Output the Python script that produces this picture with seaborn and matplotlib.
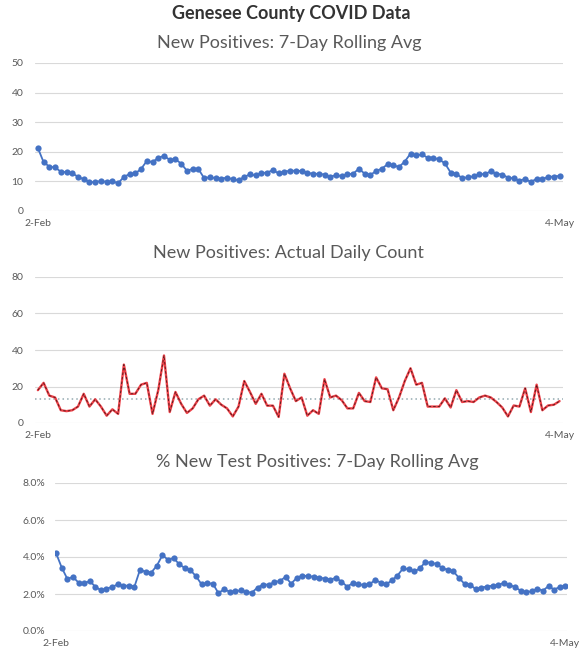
import matplotlib
matplotlib.use('Agg')
import matplotlib.pyplot as plt
import seaborn as sns
import pandas as pd
import numpy as np

# Feb 2 - May 4, one value per day
dates = pd.date_range('2021-02-02', '2021-05-04', freq='D')

rolling_avg = [21.3, 16.5, 15.0, 14.7, 13.3, 13.1, 12.7, 11.6, 10.7, 9.8,
               9.7, 10.2, 9.8, 10.0, 9.4, 11.5, 12.5, 12.7, 14.2, 16.9,
               16.5, 18.0, 18.6, 17.3, 17.5, 16.0, 13.6, 14.2, 14.2, 11.1,
               11.4, 11.1, 10.9, 11.3, 10.7, 10.4, 11.5, 12.4, 12.0, 12.8,
               13.0, 13.8, 12.7, 13.3, 13.6, 13.6, 13.5, 13.0, 12.5, 12.6,
               12.3, 11.6, 12.1, 11.8, 12.4, 12.6, 14.3, 12.6, 12.2, 13.5,
               14.3, 15.8, 15.4, 14.9, 16.7, 19.4, 18.8, 19.1, 18.0, 18.0,
               17.4, 16.1, 13.0, 12.6, 11.1, 11.4, 11.7, 12.4, 12.5, 13.4,
               12.6, 12.3, 11.3, 11.0, 10.3, 10.8, 9.8, 10.9, 10.7, 11.6,
               11.6, 11.9]

daily_count = [18, 22, 15, 14, 7, 6.5, 7, 9, 16, 9,
               13, 9, 4, 7.5, 5, 32, 16, 16, 21, 22,
               5, 18, 37, 6, 17, 10.5, 5.5, 8, 13, 15,
               9.5, 13, 10, 8, 3.6, 9, 23, 17, 10.5, 16,
               9.5, 9.5, 3.3, 27, 19, 12, 14, 4, 7, 5,
               24, 14, 15, 12.5, 8, 8, 16.5, 12, 11.5, 25,
               19, 18.5, 7, 14, 23, 30, 21, 22, 9, 9,
               9, 13.5, 8.5, 18, 11.5, 12, 11.5, 14, 15, 14,
               11.5, 8.5, 3.6, 9.6, 9, 19, 6, 21, 7, 9.6,
               10, 12]
daily_avg_line = 13.4

pct_positive = [4.2, 3.43, 2.82, 2.92, 2.62, 2.58, 2.7, 2.4, 2.2, 2.29,
                2.38, 2.52, 2.45, 2.45, 2.4, 3.32, 3.2, 3.16, 3.53, 4.1,
                3.85, 3.94, 3.61, 3.4, 3.29, 2.96, 2.52, 2.58, 2.56, 2.05,
                2.25, 2.13, 2.14, 2.2, 2.1, 2.08, 2.35, 2.51, 2.51, 2.64,
                2.71, 2.92, 2.56, 2.87, 3.0, 2.96, 2.94, 2.89, 2.83, 2.78,
                2.87, 2.67, 2.4, 2.58, 2.52, 2.49, 2.52, 2.76, 2.62, 2.52,
                2.74, 3.0, 3.38, 3.34, 3.22, 3.38, 3.74, 3.68, 3.63, 3.4,
                3.31, 3.22, 2.87, 2.54, 2.51, 2.25, 2.35, 2.4, 2.45, 2.49,
                2.6, 2.49, 2.38, 2.18, 2.11, 2.14, 2.29, 2.18, 2.43, 2.24,
                2.38, 2.45]

main_title = 'Genesee County COVID Data'
titles = ['New Positives: 7-Day Rolling Avg',
          'New Positives: Actual Daily Count',
          '% New Test Positives: 7-Day Rolling Avg']

sns.set_theme(style='white')
plt.rcParams['font.family'] = ['Lato', 'DejaVu Sans']

W, H = 581, 650
fig = plt.figure(figsize=(W / 100, H / 100), dpi=100)

def px_axes(left, top, right, bottom):
    return fig.add_axes([left / W, 1 - bottom / H, (right - left) / W, (bottom - top) / H])

ax1 = px_axes(35, 63, 563, 211)
ax2 = px_axes(35, 277, 563, 423)
ax3 = px_axes(55, 483, 567, 631)

df = pd.DataFrame({'i': np.arange(len(dates)), 'avg': rolling_avg,
                   'daily': daily_count, 'pct': np.array(pct_positive) / 100})

blue = '#4472C4'
grid_c = '#d9d9d9'
text_c = '#595959'
xlabels = [f"{d.day}-{d.strftime('%b')}" for d in (dates[0], dates[-1])]

sns.lineplot(data=df, x='i', y='avg', ax=ax1, color=blue, lw=1.3,
             marker='o', markersize=4.5, markeredgewidth=0)
sns.lineplot(data=df, x='i', y='daily', ax=ax2, color='#ee4048', lw=1.7)
sns.lineplot(data=df, x='i', y='daily', ax=ax2, color='#4a1a1a', lw=0.6,
             dashes=False, linestyle=(0, (3, 2.5)))
ax2.axhline(daily_avg_line, color='#93a9b0', lw=1.1, ls=(0, (1, 2)), zorder=1)
sns.lineplot(data=df, x='i', y='pct', ax=ax3, color=blue, lw=1.3,
             marker='o', markersize=4.5, markeredgewidth=0)

ax1.set_ylim(0, 50)
ax1.set_yticks(range(0, 51, 10))
ax2.set_ylim(0, 80)
ax2.set_yticks(range(0, 81, 20))
ax3.set_ylim(0, 0.08)
ax3.set_yticks([0, 0.02, 0.04, 0.06, 0.08])
ax3.set_yticklabels([f'{v:.1f}%' for v in [0, 2, 4, 6, 8]])

for ax, xl, ypad in [(ax1, (-0.5, 91.6), 8.5), (ax2, (-0.5, 91.6), 8.5), (ax3, (-0.2, 91.3), 7)]:
    ax.set_xlim(*xl)
    ax.set_xticks([0, len(dates) - 1])
    ax.set_xticklabels(xlabels)
    ax.set_xlabel('')
    ax.set_ylabel('')
    for s in ax.spines.values():
        s.set_visible(False)
    ax.yaxis.grid(True, color=grid_c, lw=0.8)
    ax.xaxis.grid(False)
    ax.set_axisbelow(True)
    ax.tick_params(axis='y', length=0, labelsize=7.5, colors=text_c, pad=ypad)
    ax.tick_params(axis='x', length=0, labelsize=7.5, colors=text_c, pad=5.5)
    ax.set_facecolor('none')

fig.text(0.501, 1 - 14 / H, main_title, ha='center', va='center',
         fontsize=13, fontweight='bold', color='#333333')
fig.text(0.497, 1 - 43 / H, titles[0], ha='center', va='center', fontsize=13, color=text_c)
fig.text(0.496, 1 - 253 / H, titles[1], ha='center', va='center', fontsize=13, color=text_c)
fig.text(0.546, 1 - 462 / H, titles[2], ha='center', va='center', fontsize=13, color=text_c)

fig.savefig('out.png', dpi=100, facecolor='white')
